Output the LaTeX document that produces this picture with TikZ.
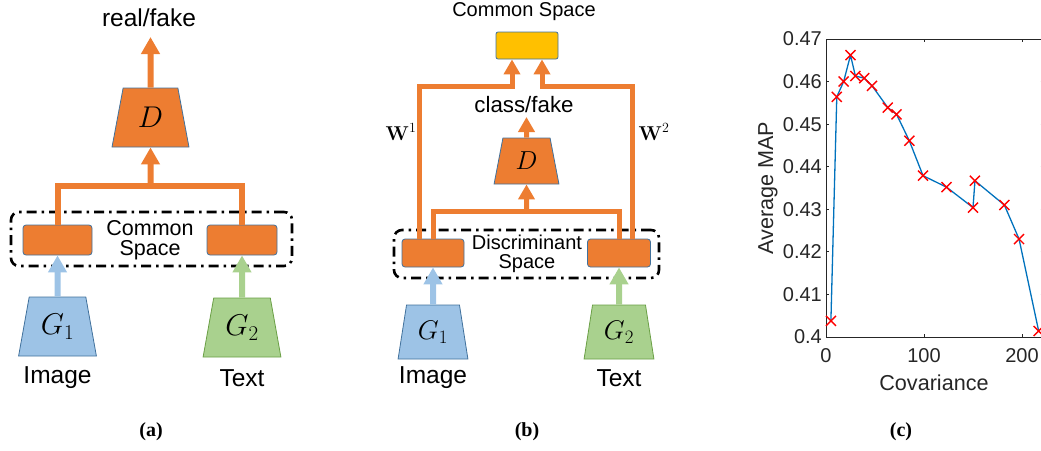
\RequirePackage{fix-cm}
\documentclass[tikz,border=0pt]{standalone}
\usepackage[no-math]{fontspec}
\setmainfont{Liberation Sans}
\newfontfamily\capfont{Liberation Serif}
\usepackage{amsmath,bm}
\usetikzlibrary{arrows.meta,positioning,shapes.geometric,calc}
\definecolor{netorange}{HTML}{ED7D31}
\definecolor{netblue}{HTML}{9DC3E6}
\definecolor{netgreen}{HTML}{A9D18E}
\definecolor{netgold}{HTML}{FFC000}
\definecolor{edgeblue}{HTML}{41719C}
\definecolor{edgegreen}{HTML}{6A9F45}
\definecolor{plotblue}{HTML}{0072BD}
\definecolor{axisgray}{HTML}{262626}
\newcommand{\fs}[1]{\fontsize{#1}{1.15\dimexpr#1pt\relax}\selectfont}

\begin{document}
\begin{tikzpicture}[x=1pt,y=-1pt,
  feat/.style={draw=edgeblue,line width=0.8pt,fill=netorange,rounded corners=3pt,inner sep=0pt},
  gen/.style={trapezium,trapezium stretches=true,draw=edgeblue,line width=0.8pt,inner sep=0pt},
  grp/.style={draw,line width=2.6pt,dash pattern=on 10pt off 5pt on 2.5pt off 5pt,rounded corners=8pt,inner sep=0pt},
  flow/.style={netorange,line width=6pt},
  flowtip/.style={flow,-{Triangle[width=18pt,length=17pt]}},
  flowb/.style={netorange,line width=5pt},
  flowbtip/.style={flowb,-{Triangle[width=16pt,length=15pt]}},
  intip/.style={line width=6pt,-{Triangle[width=18pt,length=17pt]}},
  lbl/.style={font=\fs{24.5},inner sep=0pt},
  spacelbl/.style={anchor=base,inner sep=0pt},
  panelcap/.style={font=\capfont\bfseries\fs{20},inner sep=0pt},
  axtick/.style={axisgray,line width=0.8pt},
  ticklbl/.style={axisgray,font=\fs{20},inner sep=0pt},
  mapcross/.style={red,line width=1.4pt}]
\clip (0,0) rectangle (1041,450);

% (a) shared common space
\node[grp,minimum width=281pt,minimum height=54pt] (grpA) at (151.5,239) {};
\node[feat,minimum width=69pt,minimum height=30pt] (csA1) at (57.5,240) {};
\node[feat,minimum width=70pt,minimum height=30pt] (csA2) at (242,240) {};
\node[spacelbl,font=\fs{21.5}] (csAtxt1) at (150,235) {Common};
\node[spacelbl,font=\fs{21.5}] (csAtxt2) at (150,255.5) {Space};
\node[gen,fill=netorange,trapezium angle=76,minimum width=77pt,minimum height=59pt,font=\fs{30}] (Da) at (150.5,117.5) {$D$};
\node[gen,fill=netblue,trapezium angle=76,minimum width=78pt,minimum height=59pt,font=\fs{30}] (G1a) at (57.5,326.5) {$G_1$};
\node[gen,fill=netgreen,draw=edgegreen,trapezium angle=76,minimum width=78pt,minimum height=59pt,font=\fs{30}] (G2a) at (242,327.5) {$G_2$};
\node[lbl] (imgA) at (57.5,378) {Image};
\node[lbl] (txtA) at (242,378) {Text};
\node[lbl] (rfA) at (149,18) {real/fake};
\coordinate (rfTip) at (150.5,37);
\coordinate (busA) at (150.5,186);
\draw[flow] (csA1.north) |- (busA) -| (csA2.north);
\draw[flowtip] (busA) -- (Da.south);
\draw[flowtip] (Da.north) -- (rfTip);
\draw[intip,netblue] (G1a.north) -- (csA1.south);
\draw[intip,netgreen] (G2a.north) -- (csA2.south);
\node[panelcap] (capA) at (151,432) {(a)};

% (b) discriminant space and projection to common space
\node[grp,minimum width=265pt,minimum height=48pt] (grpB) at (526.5,254) {};
\node[feat,minimum width=62pt,minimum height=28pt] (dsB1) at (433,253) {};
\node[feat,minimum width=63pt,minimum height=28pt] (dsB2) at (619,253) {};
\node[spacelbl,font=\fs{20}] (dsBtxt1) at (527,249.5) {Discriminant};
\node[spacelbl,font=\fs{20}] (dsBtxt2) at (527,268.5) {Space};
\node[feat,fill=netgold,rounded corners=2pt,minimum width=62pt,minimum height=27pt] (csB) at (527,45.5) {};
\node[inner sep=0pt,font=\fs{20}] (csBtxt) at (524,12) {Common Space};
\node[gen,fill=netorange,trapezium angle=77,minimum width=65pt,minimum height=46pt,font=\fs{26}] (Db) at (526.5,161) {$D$};
\node[inner sep=0pt,font=\fs{22.3}] (cfB) at (524,105) {class/fake};
\node[gen,fill=netblue,trapezium angle=78,minimum width=70pt,minimum height=54pt,font=\fs{27}] (G1b) at (433,332) {$G_1$};
\node[gen,fill=netgreen,draw=edgegreen,trapezium angle=78,minimum width=70pt,minimum height=54pt,font=\fs{27}] (G2b) at (619,332) {$G_2$};
\node[lbl] (imgB) at (433,378) {Image};
\node[lbl] (txtB) at (619,378) {Text};
\node[inner sep=0pt,font=\fs{20}] (w1) at (401,132) {$\mathbf{W}^1$};
\node[inner sep=0pt,font=\fs{20}] (w2) at (654,132) {$\mathbf{W}^2$};
\coordinate (busB) at (526.5,211);
\coordinate (cfTip) at (526.5,117);
\coordinate (w1turn) at (512,86);
\coordinate (w2turn) at (542,86);
\draw[flowb] (dsB1.north) |- (busB) -| (dsB2.north);
\draw[flowbtip] (busB) -- (Db.south);
\draw[flowbtip] (Db.north) -- (cfTip);
\draw[flowbtip] ($(dsB1.north)+(-14,0)$) |- (w1turn) -- (w1turn |- csB.south);
\draw[flowbtip] ($(dsB2.north)+(13,0)$) |- (w2turn) -- (w2turn |- csB.south);
\draw[intip,netblue] (G1b.north) -- (dsB1.south);
\draw[intip,netgreen] (G2b.north) -- (dsB2.south);
\node[panelcap] (capB) at (527,432) {(b)};

% (c) average MAP against covariance
\draw[axtick] (826,39) rectangle (1043,337);
\foreach \k/\v in {0/0.4,1/0.41,2/0.42,3/0.43,4/0.44,5/0.45,6/0.46,7/0.47}{
  \draw[axtick] (826,337-42.57*\k) -- ++(3,0);
  \draw[axtick] (1040.5,337-42.57*\k) -- ++(3,0);
  \node[ticklbl,anchor=east] (ytick\k) at (822,337-42.57*\k) {\v};
}
\foreach \k/\v in {0/0,1/100,2/200}{
  \draw[axtick] (826+98*\k,337) -- ++(0,-3);
  \draw[axtick] (826+98*\k,39) -- ++(0,3);
  \node[ticklbl] (xtick\k) at (826+98*\k,356) {\v};
}
\node[ticklbl,rotate=90,font=\fs{21.6}] (ylab) at (768,188) {Average MAP};
\node[ticklbl,font=\fs{21.6}] (xlab) at (934,383) {Covariance};
\begin{scope}[shift={(826,2039.8)},x=0.98pt,y=4257pt]
  \draw[plotblue,line width=1.3pt,line join=round] plot coordinates {(5,0.4038) (11,0.4564) (18,0.4600) (25,0.4662) (30,0.4613) (39,0.4608) (47,0.4590) (63,0.4539) (72,0.4523) (85,0.4461) (99,0.4379) (123,0.4352) (150,0.4304) (152,0.4367) (182,0.4310) (197,0.4230) (217,0.4014)};
  \foreach \c/\m in {5/0.4038,11/0.4564,18/0.4600,25/0.4662,30/0.4613,39/0.4608,47/0.4590,63/0.4539,72/0.4523,85/0.4461,99/0.4379,123/0.4352,150/0.4304,152/0.4367,182/0.4310,197/0.4230,217/0.4014}
    \draw[mapcross] (\c,\m) +(-5pt,-5pt) -- +(5pt,5pt) +(-5pt,5pt) -- +(5pt,-5pt);
\end{scope}
\node[panelcap] (capC) at (901,432) {(c)};
\end{tikzpicture}
\end{document}
